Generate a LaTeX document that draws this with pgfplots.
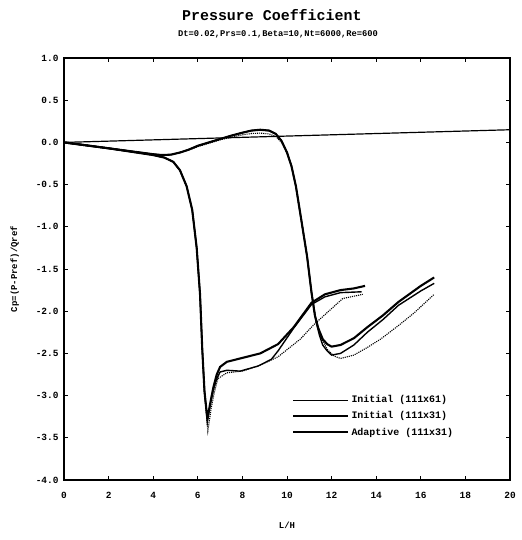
\documentclass[border=0pt]{standalone}
\usepackage{pgfplots}
\pgfplotsset{compat=1.18}
\usepackage{fontspec}
\setmainfont{Liberation Mono}
\begin{document}
\begin{tikzpicture}
\path[use as bounding box] (-64bp,-60bp) rectangle (458bp,480bp);
\begin{axis}[
  width=446bp, height=422bp, scale only axis, clip=false,
  xmin=0, xmax=20, ymin=-4, ymax=1,
  xtick={0,2,...,20}, ytick={-4,-3.5,...,1},
  tick align=inside, major tick length=4bp,
  axis line style={line width=1.3pt},
  every tick/.style={line width=0.8pt, black},
  /pgf/number format/assume math mode=true,
  ticklabel style={font=\bfseries\fontsize{9.5}{11}\selectfont},
  yticklabel style={/pgf/number format/fixed, /pgf/number format/fixed zerofill, /pgf/number format/precision=1, xshift=-2bp},
  xticklabel style={/pgf/number format/fixed, yshift=-9bp},
  xlabel={\bfseries L/H}, ylabel={\bfseries Cp=(P-Pref)/Qref},
  label style={font=\bfseries\fontsize{9}{11}\selectfont},
  xlabel style={yshift=-16bp},
  ylabel style={yshift=10bp},
  legend style={at={(0.505,0.21)}, anchor=north west, draw=none, fill=none,
    font=\bfseries\fontsize{10}{12}\selectfont, row sep=3.5pt},
  legend cell align=left,
]
% Initial (111x61) - thin (printed dotted)
\addplot[black, densely dotted, line width=1.1pt,
  legend image code/.code={\draw[black, solid, line width=0.8pt] (0bp,0bp) -- (55bp,0bp);}]
  coordinates {(0,0)(1,-0.035)(2,-0.07)(3,-0.11)(4,-0.15)(4.5,-0.18)(4.9,-0.23)(5.2,-0.33)(5.5,-0.52)(5.75,-0.8)(5.95,-1.25)(6.1,-1.8)(6.2,-2.45)(6.3,-2.97)(6.45,-3.42)(6.6,-3.15)(6.75,-2.95)(6.9,-2.8)(7.3,-2.73)(8.0,-2.71)(8.8,-2.64)(9.6,-2.54)(10.6,-2.33)(11.2,-2.16)(12.5,-1.85)(13.4,-1.8)};
\addlegendentry{Initial (111x61)}
% Initial (111x31) - thick
\addplot[black, line width=2.1pt,
  legend image code/.code={\draw[black, line width=2.1pt] (0bp,0bp) -- (55bp,0bp);}]
  coordinates {(0,0)(1,-0.035)(2,-0.07)(3,-0.11)(4,-0.15)(4.5,-0.18)(4.9,-0.23)(5.2,-0.33)(5.5,-0.52)(5.75,-0.8)(5.95,-1.25)(6.1,-1.8)(6.2,-2.45)(6.3,-2.95)(6.43,-3.28)(6.55,-3.1)(6.7,-2.9)(6.85,-2.75)(7.0,-2.66)(7.3,-2.6)(7.9,-2.56)(8.8,-2.5)(9.6,-2.39)(10.3,-2.19)(11.1,-1.9)(11.7,-1.8)(12.4,-1.75)(13.0,-1.73)(13.5,-1.7)};
\addlegendentry{Initial (111x31)}
% Adaptive (111x31) - medium
\addplot[black, line width=1.4pt,
  legend image code/.code={\draw[black, line width=1.6pt] (0bp,0bp) -- (55bp,0bp);}]
  coordinates {(0,0)(1,-0.035)(2,-0.07)(3,-0.11)(4,-0.15)(4.5,-0.18)(4.9,-0.23)(5.2,-0.33)(5.5,-0.52)(5.75,-0.8)(5.95,-1.25)(6.1,-1.8)(6.2,-2.45)(6.3,-2.95)(6.43,-3.3)(6.55,-3.12)(6.7,-2.93)(6.85,-2.8)(7.0,-2.72)(7.3,-2.7)(7.9,-2.71)(8.7,-2.65)(9.3,-2.57)(9.6,-2.47)(10.3,-2.2)(11.1,-1.92)(11.7,-1.83)(12.4,-1.78)(13.35,-1.77)};
\addlegendentry{Adaptive (111x31)}
% second wall, same three runs
\addplot[black, densely dotted, line width=1.1pt, forget plot]
  coordinates {(0,0)(2,-0.07)(4,-0.14)(4.4,-0.15)(4.8,-0.145)(5.2,-0.12)(5.6,-0.09)(6.0,-0.05)(6.5,-0.01)(7.0,0.03)(7.5,0.06)(8.0,0.09)(8.4,0.105)(8.8,0.11)(9.2,0.1)(9.5,0.07)(9.75,0.0)(10.0,-0.12)(10.2,-0.28)(10.4,-0.52)(10.6,-0.85)(10.9,-1.35)(11.1,-1.78)(11.3,-2.1)(11.55,-2.32)(11.8,-2.45)(12.1,-2.53)(12.4,-2.56)(13.0,-2.52)(13.6,-2.43)(14.2,-2.33)(15.0,-2.17)(15.7,-2.02)(16.6,-1.8)};
\addplot[black, line width=2.1pt, forget plot]
  coordinates {(0,0)(2,-0.07)(4,-0.14)(4.4,-0.15)(4.8,-0.145)(5.2,-0.12)(5.6,-0.085)(6.0,-0.04)(6.5,0)(7.0,0.04)(7.5,0.08)(8.0,0.115)(8.4,0.14)(8.8,0.15)(9.2,0.14)(9.5,0.1)(9.75,0.02)(10.0,-0.12)(10.2,-0.28)(10.4,-0.52)(10.6,-0.85)(10.9,-1.35)(11.1,-1.78)(11.25,-2.05)(11.4,-2.2)(11.6,-2.33)(11.8,-2.39)(12.0,-2.42)(12.4,-2.4)(13.0,-2.32)(13.6,-2.19)(14.3,-2.05)(15.0,-1.89)(16.0,-1.7)(16.6,-1.6)};
\addplot[black, line width=1.4pt, forget plot]
  coordinates {(0,0)(2,-0.07)(4,-0.14)(4.4,-0.15)(4.8,-0.145)(5.2,-0.12)(5.6,-0.085)(6.0,-0.04)(6.5,0)(7.0,0.04)(7.5,0.08)(8.0,0.115)(8.4,0.14)(8.8,0.15)(9.2,0.14)(9.5,0.1)(9.75,0.02)(10.0,-0.12)(10.2,-0.28)(10.4,-0.52)(10.6,-0.85)(10.9,-1.35)(11.1,-1.78)(11.3,-2.12)(11.45,-2.28)(11.6,-2.4)(11.8,-2.47)(12.0,-2.52)(12.4,-2.5)(13.0,-2.4)(13.6,-2.25)(14.3,-2.1)(15.0,-1.93)(16.0,-1.76)(16.6,-1.67)};
% near-horizontal line
\addplot[black, line width=1.2pt, forget plot] coordinates {(0,0)(20,0.15)};
\node[font=\bfseries\fontsize{15}{18}\selectfont] at (axis description cs:0.466,1.102) {Pressure Coefficient};
\node[font=\bfseries\fontsize{8.8}{10}\selectfont] at (axis description cs:0.48,1.057) {Dt=0.02,Prs=0.1,Beta=10,Nt=6000,Re=600};
\end{axis}
\end{tikzpicture}
\end{document}
